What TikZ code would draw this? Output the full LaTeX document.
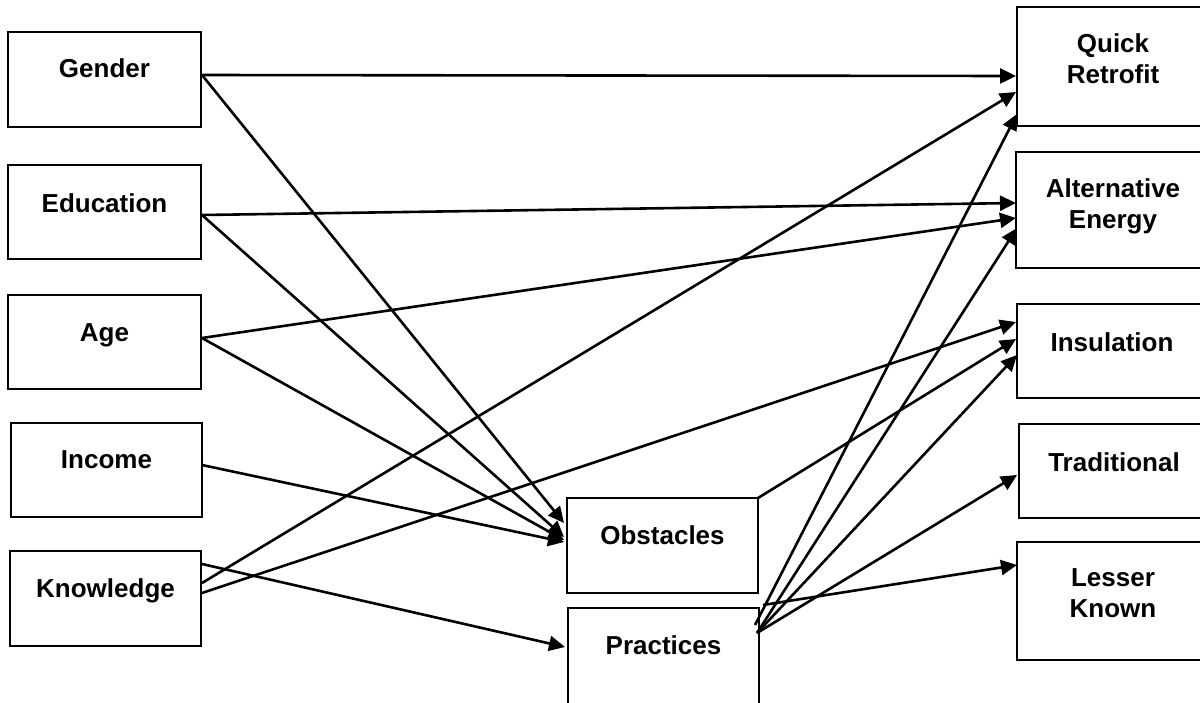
\documentclass[tikz,border=0pt]{standalone}
\usepackage{fontspec}
\setmainfont{Liberation Sans}
\usetikzlibrary{arrows.meta,calc}
\begin{document}
\begin{tikzpicture}[x=1pt,y=-1pt,
  box/.style={draw=black,line width=2.2pt,inner sep=0pt,outer sep=0pt,anchor=north west},
  lbl/.style={font=\fontsize{26}{31}\selectfont\bfseries,align=center,inner sep=0pt,anchor=north},
  conn/.style={line width=2.6pt,-{Triangle[length=16pt,width=15pt]}}]
\useasboundingbox (0,0) rectangle (1200,702);
% boxes
\node[box,minimum width=193pt,minimum height=95pt] (gender) at (8,32) {};
\node[box,minimum width=193pt,minimum height=94pt] (education) at (8,165) {};
\node[box,minimum width=193pt,minimum height=94pt] (age) at (8,295) {};
\node[box,minimum width=191pt,minimum height=94pt] (income) at (11,423) {};
\node[box,minimum width=191pt,minimum height=95pt] (knowledge) at (10,551) {};
\node[box,minimum width=191pt,minimum height=95pt] (obstacles) at (567,498) {};
\node[box,minimum width=191pt,minimum height=100pt] (practices) at (568,608) {};
\node[box,minimum width=192pt,minimum height=119pt] (qr) at (1017,7) {};
\node[box,minimum width=193pt,minimum height=116pt] (ae) at (1016,152) {};
\node[box,minimum width=192pt,minimum height=94pt] (ins) at (1017,304) {};
\node[box,minimum width=190pt,minimum height=94pt] (trad) at (1019,424) {};
\node[box,minimum width=192pt,minimum height=118pt] (lk) at (1017,542) {};
% labels
\node[lbl] (genderT) at (104.5,58.5) {Gender};
\node[lbl] (educationT) at (104.5,193.5) {Education};
\node[lbl] (ageT) at (104.5,323.5) {Age};
\node[lbl] (incomeT) at (106.5,450.5) {Income};
\node[lbl] (knowledgeT) at (105.5,578.5) {Knowledge};
\node[lbl] (obstaclesT) at (662.5,525.5) {Obstacles};
\node[lbl] (practicesT) at (663.5,635.5) {Practices};
\node[lbl] (qrT) at (1113,33.5) {Quick\\Retrofit};
\node[lbl] (aeT) at (1113,178.5) {Alternative\\Energy};
\node[lbl] (insT) at (1112,332.5) {Insulation};
\node[lbl] (tradT) at (1114,452.5) {Traditional};
\node[lbl] (lkT) at (1113,568.5) {Lesser\\Known};
% connectors
\draw[conn] ($(gender.north east)+(1,43)$) -- ($(qr.north west)+(-1,69)$);
\draw[conn] ($(gender.north east)+(1,43)$) -- ($(obstacles.north west)+(-3,25)$);
\draw[conn] ($(education.north east)+(1,50)$) -- ($(ae.north west)+(0,51)$);
\draw[conn] ($(education.north east)+(1,50)$) -- ($(obstacles.north west)+(-3,39)$);
\draw[conn] ($(age.north east)+(1,43)$) -- ($(ae.north west)+(0,66)$);
\draw[conn] ($(age.north east)+(1,43)$) -- ($(obstacles.north west)+(-3,42)$);
\draw[conn] ($(income.north east)+(0,42)$) -- ($(obstacles.north west)+(-3,44)$);
\draw[conn] ($(knowledge.north east)+(1,13)$) -- ($(practices.north west)+(-3,39)$);
\draw[conn] ($(knowledge.north east)+(1,32)$) -- ($(qr.north west)+(-1,85)$);
\draw[conn] ($(knowledge.north east)+(1,42)$) -- ($(ins.north west)+(-1,18)$);
\draw[conn] (obstacles.north east) -- ($(ins.north west)+(-1,35)$);
\draw[conn] ($(practices.north east)+(-4,17)$) -- ($(qr.north west)+(0,107)$);
\draw[conn] ($(practices.north east)+(-2,25)$) -- ($(ae.north west)+(1,76)$);
\draw[conn] ($(practices.north east)+(-2,25)$) -- ($(ins.north west)+(0,51)$);
\draw[conn] ($(practices.north east)+(-2,25)$) -- ($(trad.north west)+(-2,51)$);
\draw[conn] ($(practices.north east)+(4,-3)$) -- ($(lk.north west)+(0,23)$);
\end{tikzpicture}
\end{document}
